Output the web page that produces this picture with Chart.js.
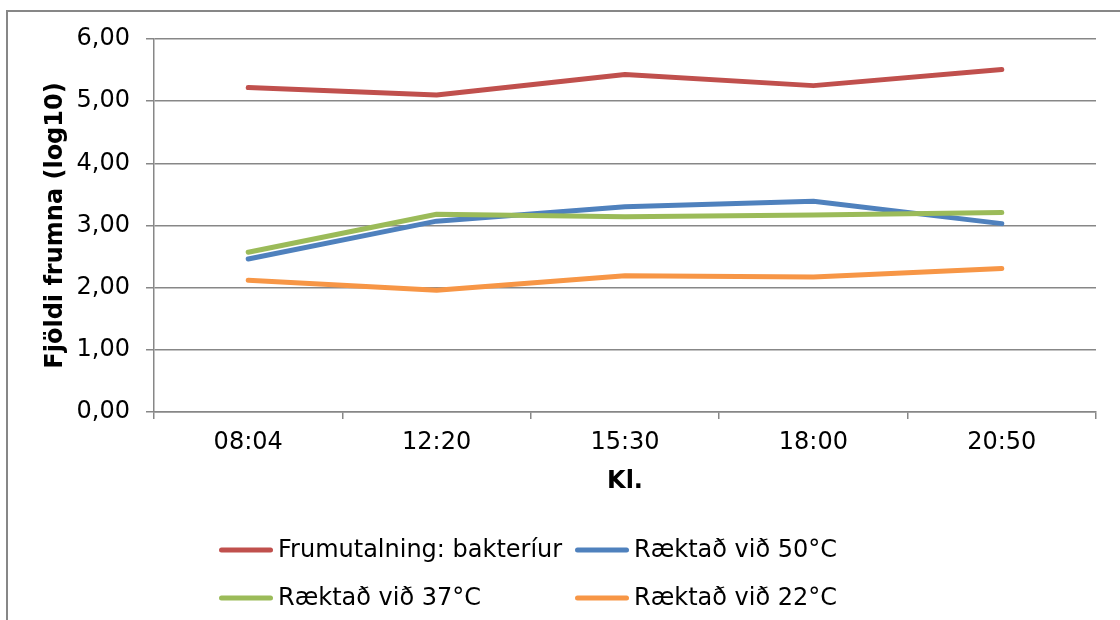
<!DOCTYPE html>
<html>
<head>
<meta charset="utf-8">
<script src="https://cdn.jsdelivr.net/npm/chart.js@4/dist/chart.umd.min.js"></script>
<style>
  html, body { margin: 0; padding: 0; background: #fff; }
  #wrap { position: relative; width: 1120px; height: 620px; overflow: hidden; }
  #frame { position: absolute; left: 6px; top: 10px; width: 1200px; height: 700px;
           border-top: 2px solid #878787; border-left: 2px solid #878787; }
  #chart { position: absolute; left: 0; top: 0; }
</style>
</head>
<body>
<div id="wrap">
  <div id="frame"></div>
  <canvas id="chart" width="1120" height="620"></canvas>
</div>
<script>
// DATA
const times = ["08:04", "12:20", "15:30", "18:00", "20:50"];
const bakteriur = [5.22, 5.10, 5.43, 5.25, 5.51];
const vid50 = [2.46, 3.07, 3.30, 3.39, 3.03];
const vid37 = [2.57, 3.18, 3.14, 3.17, 3.21];
const vid22 = [2.12, 1.96, 2.19, 2.17, 2.31];
const yTicks = [0, 1, 2, 3, 4, 5, 6];

const FONT = "'DejaVu Sans', Verdana, sans-serif";
const GRID = "#878787";

// legend in two columns, like the original
const gridLegend = {
    id: "gridLegend",
    afterDraw(chart) {
        const c = chart.ctx;
        const cols = [219, 575];
        const rows = [550, 598];
        c.save();
        c.font = "24px " + FONT;
        c.textBaseline = "middle";
        c.fillStyle = "#000";
        chart.data.datasets.forEach((ds, i) => {
            const x = cols[i % 2];
            const y = rows[Math.floor(i / 2)];
            c.strokeStyle = ds.borderColor;
            c.lineWidth = 5;
            c.lineCap = "round";
            c.beginPath();
            c.moveTo(x + 2.5, y);
            c.lineTo(x + 51.5, y);
            c.stroke();
            c.fillText(ds.label, x + 59, y + 1);
        });
        c.restore();
    },
};

const line = (label, data, color, order) => ({
    label,
    data,
    borderColor: color,
    backgroundColor: color,
    borderWidth: 5,
    borderCapStyle: "round",
    borderJoinStyle: "round",
    pointRadius: 0,
    tension: 0,
    order,
});

const ctx = document.getElementById("chart");
const chart = new Chart(ctx, {
    type: "line",
    data: {
        labels: times,
        datasets: [
            line("Frumutalning: bakteríur", bakteriur, "#C0504D", 4),
            line("Ræktað við 50°C", vid50, "#4F81BD", 3),
            line("Ræktað við 37°C", vid37, "#9BBB59", 2),
            line("Ræktað við 22°C", vid22, "#F79646", 1),
        ],
    },
    options: {
        responsive: false,
        animation: false,
        devicePixelRatio: 1,
        layout: { padding: { left: 0, top: 39, right: 24, bottom: 120 } },
        plugins: {
            legend: { display: false },
            tooltip: { enabled: false },
        },
        scales: {
            x: {
                offset: true,
                grid: { offset: true, drawOnChartArea: false, color: GRID, lineWidth: 1.5, tickLength: 7 },
                border: { color: GRID, width: 1.5 },
                ticks: { color: "#000", font: { family: FONT, size: 24 }, padding: 9, maxRotation: 0 },
                title: { display: true, text: "Kl.", color: "#000", font: { family: FONT, size: 24, weight: "bold" }, padding: { top: 0, bottom: 4 } },
                afterFit: (s) => { s.height = 88; },
            },
            y: {
                min: 0,
                max: 6,
                afterBuildTicks: (s) => { s.ticks = yTicks.map((v) => ({ value: v })); },
                grid: { color: GRID, lineWidth: 1.5, tickLength: 8 },
                border: { color: GRID, width: 1.5 },
                ticks: {
                    color: "#000",
                    font: { family: FONT, size: 24 },
                    padding: 16,
                    callback: (v) => v.toFixed(2).replace(".", ","),
                },
                title: { display: true, text: "Fjöldi frumna (log10)", color: "#000", font: { family: FONT, size: 24, weight: "bold" }, padding: { top: 41, bottom: 0 } },
                afterFit: (s) => { s.width = 154; },
            },
        },
    },
    plugins: [gridLegend],
});
</script>
</body>
</html>
